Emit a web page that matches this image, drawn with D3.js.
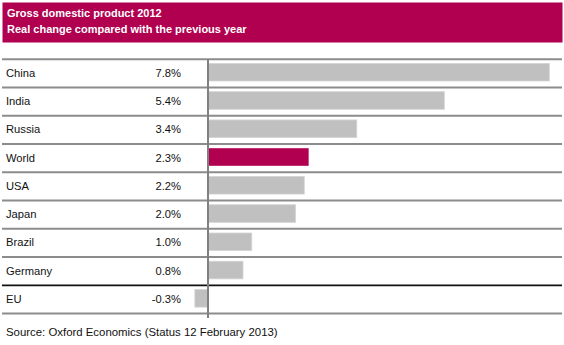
<!DOCTYPE html>
<html><head><meta charset="utf-8">
<script src="https://cdn.jsdelivr.net/npm/d3@7"></script>
<style>html,body{margin:0;padding:0;background:#fff;}svg{display:block;font-family:"Liberation Sans",Arial,sans-serif;}</style>
</head><body>
<svg id="chart" width="564" height="345"></svg>
<script>
const titleLines = ["Gross domestic product 2012", "Real change compared with the previous year"];
const countries = ["China","India","Russia","World","USA","Japan","Brazil","Germany","EU"];
const growth = [7.8, 5.4, 3.4, 2.3, 2.2, 2.0, 1.0, 0.8, -0.3];
const valueLabels = ["7.8%","5.4%","3.4%","2.3%","2.2%","2.0%","1.0%","0.8%","-0.3%"];
const highlight = "World";
const source = "Source: Oxford Economics (Status 12 February 2013)";

const svg = d3.select("#chart");
const magenta = "#B0004F";

// title box
svg.append("rect").attr("x",2.5).attr("y",2.5).attr("width",560).attr("height",40).attr("fill",magenta);
svg.selectAll("text.title").data(titleLines).join("text").attr("class","title")
  .attr("x",7).attr("y",(d,i)=>17+i*16).attr("fill","#fff").attr("font-weight","bold")
  .attr("font-size",11).text(d=>d);

const y = d3.scaleBand().domain(countries).range([59.2,313.6]).padding(0);
const x = d3.scaleLinear().domain([0,7.8]).range([208,549.3]);

const data = countries.map((c,i)=>({c, v:growth[i], label:valueLabels[i]}));

// bars
svg.selectAll("rect.bar").data(data).join("rect").attr("class","bar")
  .attr("x",d=>Math.min(x(0),x(d.v)))
  .attr("width",d=>Math.abs(x(d.v)-x(0)))
  .attr("y",d=>y(d.c)+4.2)
  .attr("height",17.6)
  .attr("fill",d=>d.c===highlight?magenta:"#C0C0C0")
  .attr("stroke",d=>d.c===highlight?"none":"#d4d4d4").attr("stroke-width",0.8);

// row separators
const lineYs = [y(countries[0])].concat(countries.map(c=>y(c)+y.bandwidth()));
svg.selectAll("line.sep").data(lineYs).join("line").attr("class","sep")
  .attr("x1",2).attr("x2",562).attr("y1",d=>d).attr("y2",d=>d)
  .attr("stroke",(d,i)=>i===countries.length-1?"#111":"#8c8c8c")
  .attr("stroke-width",(d,i)=>i===countries.length-1?1.6:2);

// zero axis
svg.append("line").attr("x1",x(0)).attr("x2",x(0)).attr("y1",59).attr("y2",318)
  .attr("stroke","#808080").attr("stroke-width",2);

// labels
svg.selectAll("text.country").data(data).join("text").attr("class","country")
  .attr("x",6).attr("y",d=>y(d.c)+y.bandwidth()/2-0.5).attr("dy","0.35em")
  .attr("font-size",11.2).attr("fill","#111").text(d=>d.c);
svg.selectAll("text.val").data(data).join("text").attr("class","val")
  .attr("x",181).attr("y",d=>y(d.c)+y.bandwidth()/2-0.5).attr("dy","0.35em")
  .attr("text-anchor","end").attr("font-size",11.2).attr("fill","#111").text(d=>d.label);

svg.append("text").attr("x",6).attr("y",336).attr("font-size",11.4).attr("fill","#111").text(source);
</script>
</body></html>
